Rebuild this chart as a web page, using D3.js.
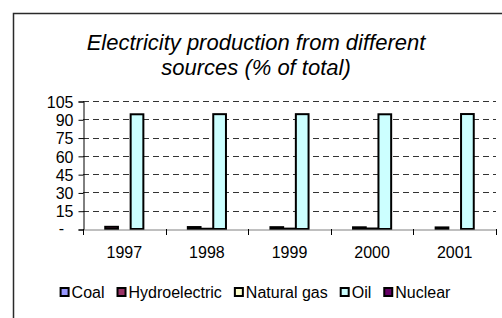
<!DOCTYPE html>
<html><head><meta charset="utf-8">
<script src="https://cdn.jsdelivr.net/npm/d3@7"></script>
<style>body{margin:0;background:#fff}svg{display:block}text{font-family:Arial,"Liberation Sans",sans-serif}</style>
</head><body><svg id="c" width="502" height="318"></svg>
<script>
const years = ["1997","1998","1999","2000","2001"];
const seriesNames = ["Coal","Hydroelectric","Natural gas","Oil","Nuclear"];
const seriesColors = ["#9999FF","#993366","#FFFFCC","#CCFFFF","#660066"];
const coal = [0,0,0,0,0];
const hydro = [1.8,1.6,1.5,1.4,1.3];
const natgas = [0,0.2,0.3,0.4,0];
const oil = [94.1,94.2,94.2,94.1,94.3];
const nuclear = [0,0,0,0,0];
const yTicks = [0,15,30,45,60,75,90,105];
const titleLines = ["Electricity production from different","sources (% of total)"];
const values = [coal, hydro, natgas, oil, nuclear];

const FS = 16;
const svg = d3.select("#c");
svg.append("rect").attr("x",13.5).attr("y",13.5).attr("width",700).attr("height",700)
  .attr("fill","#fff").attr("stroke","#2a2a2a").attr("stroke-width",1.5);

svg.selectAll("text.title").data(titleLines).enter().append("text")
  .attr("x",256).attr("y",(d,i)=>50+i*25).attr("text-anchor","middle")
  .attr("font-size",22).attr("font-style","italic").attr("fill","#000").text(d=>d);

const L=83, R=496, T=101, B=229;
const y = d3.scaleLinear().domain([0,105]).range([B,T]);
const x0 = d3.scaleBand().domain(years).range([L,R]).paddingInner(0).paddingOuter(0);
const bw = x0.bandwidth()/6.5;
const x1 = d3.scaleBand().domain(seriesNames).range([bw*0.75, bw*5.75]).padding(0);

// gridlines
svg.append("g").selectAll("line").data(yTicks.filter(t=>t>0)).enter().append("line")
  .attr("x1",L).attr("x2",R).attr("y1",d=>Math.round(y(d))+0.5).attr("y2",d=>Math.round(y(d))+0.5)
  .attr("stroke","#333").attr("stroke-dasharray","6,4");

// y axis
const yAxis = d3.axisLeft(y).tickValues(yTicks).tickSize(5).tickFormat(d=>d===0?"":d);
const gy = svg.append("g").attr("transform",`translate(${L+0.5},0.5)`).call(yAxis);
gy.select(".domain").attr("stroke","#000");
gy.selectAll(".tick line").attr("stroke","#000");
gy.selectAll(".tick text").attr("font-size",FS).attr("fill","#000").attr("x",-10).attr("dy","0.36em");
svg.append("text").attr("x",64).attr("y",B+5).attr("text-anchor","end").attr("font-size",FS).text("-");

// bars
years.forEach((yr,i)=>{
  values.forEach((arr,s)=>{
    const v = arr[i];
    if(v<=0) return;
    const xx = x0(yr)+x1(seriesNames[s]);
    svg.append("rect").attr("x",xx).attr("y",y(v)).attr("width",x1.bandwidth())
      .attr("height",Math.max(0,B-y(v))).attr("fill",seriesColors[s])
      .attr("stroke","#000").attr("stroke-width",2);
  });
});

// x axis
const xAxis = d3.axisBottom(x0).tickSize(0).tickSizeOuter(0);
const gx = svg.append("g").attr("transform",`translate(0,${B+0.5})`).call(xAxis);
gx.select(".domain").attr("stroke","#808080");
gx.selectAll(".tick text").attr("font-size",FS).attr("fill","#000").attr("y",17).attr("dy","0.71em");
const bounds = years.map(d=>x0(d)).concat([R]);
svg.append("g").selectAll("line").data(bounds).enter().append("line")
  .attr("x1",d=>Math.round(d)+0.5).attr("x2",d=>Math.round(d)+0.5).attr("y1",B).attr("y2",B+6)
  .attr("stroke","#000");

// legend
const lg = svg.append("g");
let cx = 0;
seriesNames.forEach((n,i)=>{
  const g = lg.append("g").attr("transform",`translate(${cx},0)`);
  g.append("rect").attr("x",1).attr("y",-10).attr("width",8).attr("height",8)
    .attr("fill",seriesColors[i]).attr("stroke","#000").attr("stroke-width",2);
  const t = g.append("text").attr("x",12).attr("y",0).attr("font-size",FS).text(n);
  const w = t.node().getComputedTextLength();
  cx += 12 + w + 12;
});
const total = cx - 12;
lg.attr("transform",`translate(${255-total/2},298)`);
</script></body></html>
